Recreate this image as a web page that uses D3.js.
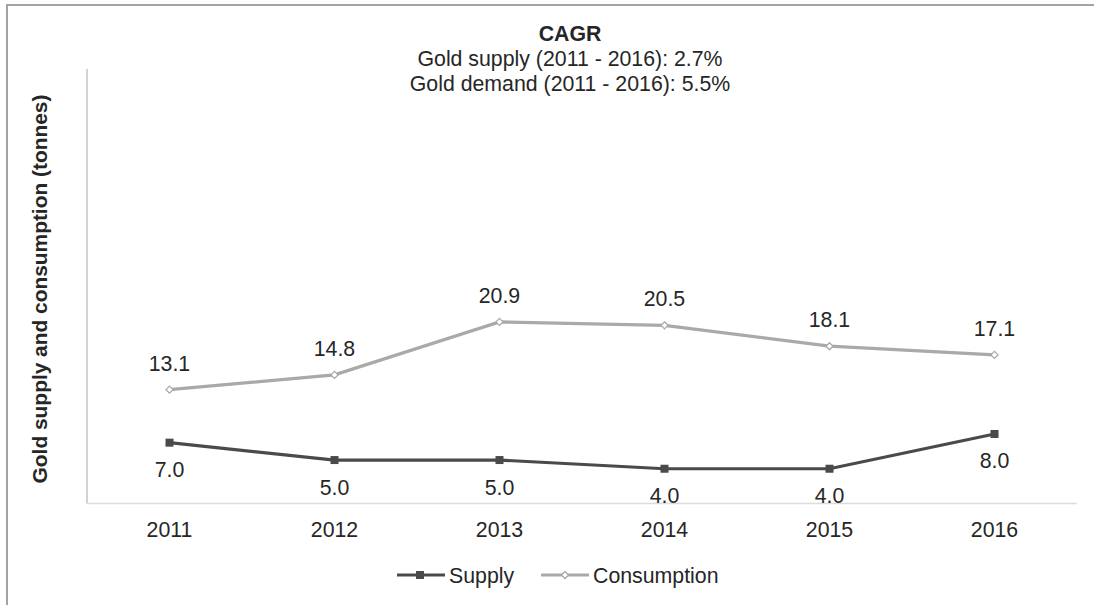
<!DOCTYPE html>
<html>
<head>
<meta charset="utf-8">
<script src="https://cdn.jsdelivr.net/npm/d3@7"></script>
<style>
  html, body { margin: 0; padding: 0; background: #fff; }
  svg { display: block; font-family: "Liberation Sans", Arial, sans-serif; }
</style>
</head>
<body>
<svg id="chart" width="1094" height="605"></svg>
<script>
// Gold supply and consumption, 2011-2016 (tonnes)
const years = ["2011", "2012", "2013", "2014", "2015", "2016"];
const supply = [7.0, 5.0, 5.0, 4.0, 4.0, 8.0];
const consumption = [13.1, 14.8, 20.9, 20.5, 18.1, 17.1];
const titleLines = ["CAGR", "Gold supply (2011 - 2016): 2.7%", "Gold demand (2011 - 2016): 5.5%"];
const yTitle = "Gold supply and consumption (tonnes)";
const seriesNames = ["Supply", "Consumption"];

const W = 1094, H = 605;
const plot = { left: 87, right: 1077, top: 69, bottom: 503.5 };
const textColor = "#262626";
const supplyColor = "#4a4a4a";
const consColor = "#a9a9a9";
const fs = 21.3;

const svg = d3.select("#chart");

// outer frame (top and left edges)
svg.append("path")
  .attr("d", `M7,${H} L7,5 L${W},5`)
  .attr("fill", "none").attr("stroke", "#a3a3a3").attr("stroke-width", 2);

const x = d3.scaleBand().domain(years).range([plot.left, plot.right]);
const y = d3.scaleLinear().domain([0, 50]).range([plot.bottom, plot.top]);
const cx = d => x(d) + x.bandwidth() / 2;

// axes
svg.append("line")
  .attr("x1", plot.left).attr("x2", plot.left)
  .attr("y1", y(50)).attr("y2", y(0))
  .attr("stroke", "#c3c3c3").attr("stroke-width", 1.5);
svg.append("line")
  .attr("x1", plot.left).attr("x2", plot.right)
  .attr("y1", y(0)).attr("y2", y(0))
  .attr("stroke", "#dcdcdc").attr("stroke-width", 1.5);

// category labels
svg.append("g").selectAll("text").data(years).join("text")
  .attr("x", d => cx(d)).attr("y", y(0) + 33)
  .attr("text-anchor", "middle").attr("font-size", fs).attr("fill", textColor)
  .text(d => d);

// title block
svg.append("g").selectAll("text").data(titleLines).join("text")
  .attr("x", 570).attr("y", (d, i) => [40.5, 66, 91][i])
  .attr("text-anchor", "middle").attr("font-size", fs)
  .attr("font-weight", (d, i) => i === 0 ? "bold" : "normal")
  .attr("fill", textColor)
  .text(d => d);

// y axis title
svg.append("text")
  .attr("transform", `translate(47,289) rotate(-90)`)
  .attr("text-anchor", "middle").attr("font-size", 20.9).attr("font-weight", "bold")
  .attr("fill", textColor)
  .text(yTitle);

const line = d3.line().x((d, i) => cx(years[i])).y(d => y(d));

// consumption series
svg.append("path").datum(consumption)
  .attr("d", line).attr("fill", "none")
  .attr("stroke", consColor).attr("stroke-width", 3.2);
svg.append("g").selectAll("path").data(consumption).join("path")
  .attr("d", d3.symbol(d3.symbolDiamond2, 32))
  .attr("transform", (d, i) => `translate(${cx(years[i])},${y(d)})`)
  .attr("fill", "#fff").attr("stroke", consColor).attr("stroke-width", 1.3);
svg.append("g").selectAll("text").data(consumption).join("text")
  .attr("x", (d, i) => cx(years[i])).attr("y", d => y(d) - 19)
  .attr("text-anchor", "middle").attr("font-size", fs).attr("fill", textColor)
  .text(d => d.toFixed(1));

// supply series
svg.append("path").datum(supply)
  .attr("d", line).attr("fill", "none")
  .attr("stroke", supplyColor).attr("stroke-width", 3.2);
svg.append("g").selectAll("rect").data(supply).join("rect")
  .attr("x", (d, i) => cx(years[i]) - 4).attr("y", d => y(d) - 4)
  .attr("width", 8).attr("height", 8).attr("fill", supplyColor);
svg.append("g").selectAll("text").data(supply).join("text")
  .attr("x", (d, i) => cx(years[i])).attr("y", d => y(d) + 34.5)
  .attr("text-anchor", "middle").attr("font-size", fs).attr("fill", textColor)
  .text(d => d.toFixed(1));

// legend
const legendY = 575;
const legend = svg.append("g");
// Supply entry
legend.append("line").attr("x1", 397).attr("x2", 445).attr("y1", legendY).attr("y2", legendY)
  .attr("stroke", supplyColor).attr("stroke-width", 3.2);
legend.append("rect").attr("x", 416).attr("y", legendY - 4).attr("width", 8).attr("height", 8)
  .attr("fill", supplyColor);
legend.append("text").attr("x", 449).attr("y", legendY + 7.5)
  .attr("font-size", fs).attr("fill", textColor).text(seriesNames[0]);
// Consumption entry
legend.append("line").attr("x1", 541).attr("x2", 589).attr("y1", legendY).attr("y2", legendY)
  .attr("stroke", consColor).attr("stroke-width", 3.2);
legend.append("path").attr("d", d3.symbol(d3.symbolDiamond2, 32))
  .attr("transform", `translate(565,${legendY})`)
  .attr("fill", "#fff").attr("stroke", consColor).attr("stroke-width", 1.3);
legend.append("text").attr("x", 593).attr("y", legendY + 7.5)
  .attr("font-size", fs).attr("fill", textColor).text(seriesNames[1]);
</script>
</body>
</html>
